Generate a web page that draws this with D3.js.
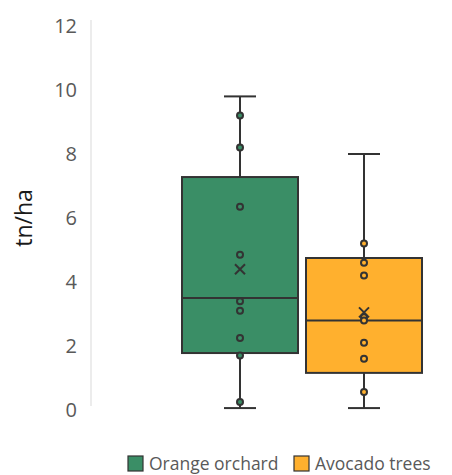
<!DOCTYPE html>
<html>
<head>
<meta charset="utf-8">
<script src="https://cdn.jsdelivr.net/npm/d3@7"></script>
<style>
  body { margin: 0; background: #fff; }
  text { font-family: "Open Sans", "Noto Sans", sans-serif; }
</style>
</head>
<body>
<div id="chart"></div>
<script>
// Series and their summary values.
var series = ['Orange orchard', 'Avocado trees'];
var colors = ['#3a8e66', '#ffb02e'];
var mins = [0.06, 0.06];
var q1s = [1.78, 1.16];
var medians = [3.5, 2.8];
var q3s = [7.28, 4.75];
var maxs = [9.8, 8.0];
var means = [4.4, 3.05];
var innerPoints = [
  [9.2, 8.2, 6.35, 4.85, 3.4, 3.1, 2.25, 1.7, 0.25],
  [5.2, 4.6, 4.2, 2.9, 2.8, 2.1, 1.6, 0.56]
];
var yTicks = [0, 2, 4, 6, 8, 10, 12];

var width = 452, height = 475;

function translate(x, y) {
  return 'translate(' + x + ', ' + y + ')';
}

var svg = d3.select('#chart').append('svg')
  .attr('width', width)
  .attr('height', height);

var y = d3.scaleLinear().domain([0, 12]).range([410, 26]);

// box centres along the category axis
var x = d3.scalePoint()
  .domain(series)
  .range([240, 364]);

var boxW = 116;
var stroke = '#333';

// Y axis (labels only, plus faint vertical rule)
svg.append('line')
  .attr('x1', 91).attr('x2', 91)
  .attr('y1', y(12) - 6).attr('y2', y(0) - 4)
  .attr('stroke', '#e6e6e6')
  .attr('stroke-width', 1.5);

svg.append('g')
  .selectAll('text').data(yTicks).enter()
  .append('text')
    .attr('x', 77)
    .attr('y', function(d) { return y(d); })
    .attr('dy', '0.36em')
    .attr('text-anchor', 'end')
    .attr('fill', '#595959')
    .style('font-size', '20px')
    .text(function(d) { return d; });

svg.append('text')
  .attr('transform', translate(32, 218) + ' rotate(-90)')
  .attr('text-anchor', 'middle')
  .attr('fill', '#1a1a1a')
  .style('font-size', '23px')
  .text('tn/ha');

var boxes = svg.selectAll('.box').data(series).enter()
  .append('g')
    .classed('box', true);

boxes.each(function(s, i) {
  var g = d3.select(this);
  var cx = x(s);

  // whisker line
  g.append('line')
    .attr('x1', cx).attr('x2', cx)
    .attr('y1', y(maxs[i])).attr('y2', y(mins[i]))
    .attr('stroke', stroke).attr('stroke-width', 2);

  // caps
  [maxs[i], mins[i]].forEach(function(v) {
    g.append('line')
      .attr('x1', cx - 16).attr('x2', cx + 16)
      .attr('y1', y(v)).attr('y2', y(v))
      .attr('stroke', stroke).attr('stroke-width', 2);
  });

  // box
  g.append('rect')
    .attr('x', cx - boxW / 2)
    .attr('y', y(q3s[i]))
    .attr('width', boxW)
    .attr('height', y(q1s[i]) - y(q3s[i]))
    .attr('fill', colors[i])
    .attr('stroke', stroke)
    .attr('stroke-width', 2);

  // median
  g.append('line')
    .attr('x1', cx - boxW / 2).attr('x2', cx + boxW / 2)
    .attr('y1', y(medians[i])).attr('y2', y(medians[i]))
    .attr('stroke', stroke).attr('stroke-width', 2);

  // inner points
  g.selectAll('circle').data(innerPoints[i]).enter()
    .append('circle')
      .attr('cx', cx)
      .attr('cy', function(d) { return y(d); })
      .attr('r', 3)
      .attr('fill', colors[i])
      .attr('stroke', stroke)
      .attr('stroke-width', 2);

  // mean marker
  var my = y(means[i]), m = 5;
  g.append('path')
    .attr('d', 'M' + (cx - m) + ',' + (my - m) + 'L' + (cx + m) + ',' + (my + m) +
               'M' + (cx + m) + ',' + (my - m) + 'L' + (cx - m) + ',' + (my + m))
    .attr('stroke', stroke)
    .attr('stroke-width', 2)
    .attr('fill', 'none');
});

// Legend
var legend = svg.append('g').attr('transform', translate(128, 456));
var legendX = [0, 166];
series.forEach(function(s, i) {
  var lg = legend.append('g').attr('transform', translate(legendX[i], 0));
  lg.append('rect')
    .attr('x', 0).attr('y', 0)
    .attr('width', 15).attr('height', 15)
    .attr('fill', colors[i])
    .attr('stroke', stroke)
    .attr('stroke-width', 1.2);
  lg.append('text')
    .attr('x', 21).attr('y', 8)
    .attr('dy', '0.36em')
    .attr('fill', '#595959')
    .style('font-size', '17.5px')
    .text(s);
});
</script>
</body>
</html>
